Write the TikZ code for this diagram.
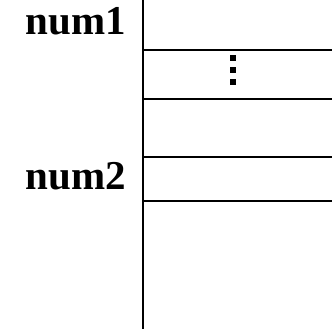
\documentclass[tikz,border=0pt]{standalone}
\usepackage{fontspec}
\setmainfont{Liberation Serif}
\begin{document}
\begin{tikzpicture}[x=1pt,y=-1pt,
  rule/.style={line width=2pt,black},
  lab/.style={font=\fontsize{41}{48}\selectfont\bfseries,inner sep=0pt,anchor=base east},
  dotsq/.style={fill=black}]
\useasboundingbox (0,0) rectangle (332,329);
\draw[rule] (142.5,0) -- (142.5,329);
\foreach \y in {50,99,156.5,200.5} \draw[rule] (142.5,\y) -- (332,\y);
\node[lab] (n1) at (126,35) {num1};
\node[lab] (n2) at (126,189) {num2};
\foreach \y in {58.5,70.5,82.3} \fill[dotsq] (230,\y-3) rectangle (236,\y+3);
\end{tikzpicture}
\end{document}
